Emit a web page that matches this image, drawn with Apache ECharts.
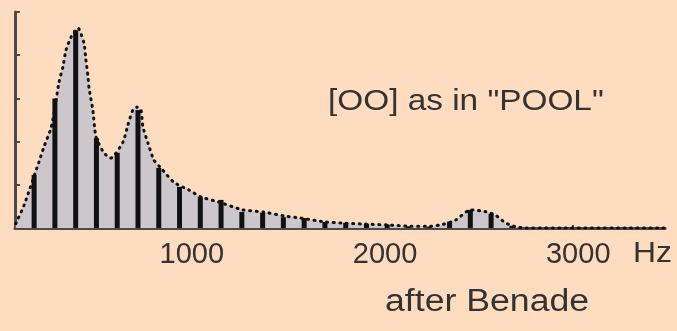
<!DOCTYPE html>
<html>
<head>
<meta charset="utf-8">
<script src="https://cdn.jsdelivr.net/npm/echarts@6/dist/echarts.min.js"></script>
<style>
html,body{margin:0;padding:0;background:#fddcbf;}
#c{width:677px;height:331px;}
</style>
</head>
<body>
<div id="c"></div>
<script>
// Harmonic frequencies (Hz) and their amplitudes (relative units, axis 0..5)
var harmonicHz = [215, 322.5, 430, 537.5, 645, 752.5, 860, 967.5, 1075, 1182.5, 1290, 1397.5,
  1505, 1612.5, 1720, 1827.5, 1935, 2042.5, 2150, 2257.5, 2365, 2472.5, 2580, 2687.5];
var harmonicAmp = [1.23, 3.0, 4.58, 2.08, 1.74, 2.73, 1.39, 0.95, 0.72, 0.65, 0.37, 0.35,
  0.25, 0.23, 0.14, 0.12, 0.10, 0.08, 0.04, 0.03, 0.15, 0.42, 0.33, 0.05];

// Spectral envelope (dotted curve)
var envelopeHz = [120, 163, 240, 266, 302, 318, 344, 364, 380, 406, 442, 473, 483, 494, 499, 519, 535,
  576, 612, 675, 700, 726, 747, 768, 778, 804, 835, 871, 938, 1016, 1078, 1171, 1295, 1403, 1507,
  1594, 1723, 1827, 1930, 2049, 2163, 2266, 2328, 2395, 2473, 2550, 2602, 2654, 2706, 2757, 3480];
var envelopeAmp = [0.1, 0.53, 1.53, 1.88, 2.31, 2.66, 3.38, 3.73, 4.12, 4.42, 4.63, 4.28, 3.89, 3.5, 3.24, 2.73, 2.11,
  1.74, 1.62, 1.99, 2.38, 2.73, 2.8, 2.73, 2.34, 1.97, 1.57, 1.39, 1.06, 0.88, 0.72, 0.6, 0.42, 0.37, 0.28,
  0.23, 0.14, 0.11, 0.09, 0.07, 0.04, 0.04, 0.08, 0.18, 0.42, 0.38, 0.3, 0.12, 0.03, 0.0, 0.0];

var xTicks = [1000, 2000, 3000];
var yTicks = [0, 1, 2, 3, 4, 5];

var bars = harmonicHz.map(function (f, i) { return [f, harmonicAmp[i]]; });
var env = envelopeHz.map(function (f, i) { return [f, envelopeAmp[i]]; });

var chart = echarts.init(document.getElementById('c'), null, {renderer: 'canvas'});
var axisCol = '#4a4a4a';
var font = 'Liberation Sans, Arial, Helvetica, sans-serif';
chart.setOption({
  backgroundColor: '#fddcbf',
  animation: false,
  grid: {left: 15, right: 12, top: 12, bottom: 103, containLabel: false},
  xAxis: {
    type: 'value', min: 116, max: 3480,
    axisLine: {show: true, onZero: false, lineStyle: {color: axisCol, width: 3}},
    axisTick: {show: true, inside: true, length: 3, customValues: xTicks, lineStyle: {color: axisCol, width: 2}},
    axisLabel: {customValues: xTicks, color: '#333', fontSize: 29, fontFamily: font, margin: 12,
      padding: [0, 0, 0, 12], formatter: function (v) { return String(v); }},
    splitLine: {show: false}
  },
  yAxis: {
    type: 'value', min: 0, max: 5, interval: 1,
    axisLine: {show: true, lineStyle: {color: axisCol, width: 3}},
    axisTick: {show: true, inside: true, length: 5, lineStyle: {color: axisCol, width: 2}},
    axisLabel: {show: false},
    splitLine: {show: false}
  },
  series: [
    {
      type: 'line', data: env, smooth: 0.2, symbol: 'none', z: 1,
      lineStyle: {width: 0, opacity: 0},
      areaStyle: {color: '#cbc7cb', opacity: 1}
    },
    {
      type: 'bar', data: bars, barWidth: 5, z: 2,
      itemStyle: {color: '#111'}
    },
    {
      type: 'line', data: env, smooth: 0.2, symbol: 'none', z: 3,
      lineStyle: {color: '#111', width: 3, type: [1, 5.5], cap: 'round'}
    }
  ],
  graphic: [
    {type: 'text', x: 328, y: 102, scaleX: 1.15, z: 10,
      style: {text: '[OO] as in "POOL"', font: '29px ' + font, fill: '#333', textVerticalAlign: 'middle'}},
    {type: 'text', x: 633, y: 254, scaleX: 1.1, z: 10,
      style: {text: 'Hz', font: '29px ' + font, fill: '#333', textVerticalAlign: 'middle'}},
    {type: 'text', x: 385, y: 302, scaleX: 1.15, z: 10,
      style: {text: 'after Benade', font: '31px ' + font, fill: '#333', textVerticalAlign: 'middle'}}
  ]
});
</script>
</body>
</html>
